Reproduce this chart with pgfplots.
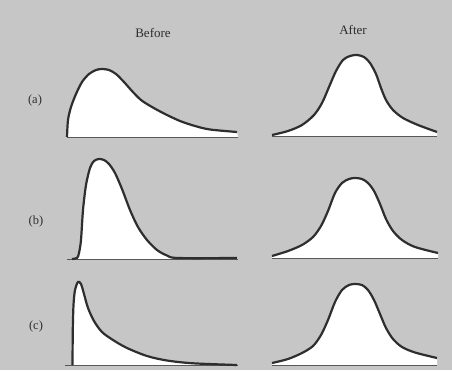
\documentclass[border=0pt]{standalone}
\usepackage{pgfplots}
\pgfplotsset{compat=1.18}
\usepgfplotslibrary{fillbetween}
\usepackage{fontspec}
\setmainfont{Liberation Serif}
\definecolor{bg}{HTML}{C6C6C6}
\definecolor{ink}{HTML}{2E2E2E}
\begin{document}
\begin{tikzpicture}
\begin{axis}[
  width=452pt, height=370pt, scale only axis,
  xmin=0, xmax=452, ymin=0, ymax=370, y dir=reverse,
  enlargelimits=false, xtick=\empty, ytick=\empty,
  axis line style={draw=none},
  axis background/.style={fill=bg},
  clip=true,
]
% ---------- (a) Before ----------
\addplot[name path=ca1, draw=none, smooth] coordinates {(67,137)(68,120)(71,107)(76,94)(82,82)(89,74)(96,70)(102,69)(109,70)(116,74)(124,82)(132,91)(141,100)(152,107)(165,114)(180,121)(195,126)(210,129.5)(237,132)};
\addplot[name path=ba1, draw=none] coordinates {(67,137)(238,137)};
\addplot[white] fill between[of=ca1 and ba1];
% ---------- (a) After ----------
\addplot[name path=ca2, draw=none, smooth] coordinates {(272,135)(288,131)(302,125)(314,115)(322,103)(329,87)(336,71)(343,60)(350,56)(357,55)(364,57)(370,63)(376,74)(381,88)(386,100)(393,110)(403,118)(418,125)(437,132)};
\addplot[name path=ba2, draw=none] coordinates {(272,136)(437,136)};
\addplot[white] fill between[of=ca2 and ba2];
% ---------- (b) Before ----------
\addplot[name path=cb1, draw=none, smooth] coordinates {(72,259)(77,258)(79,253)(81,240)(83,210)(86,185)(90,168)(94,161)(99,159)(104,160)(109,164)(115,173)(122,189)(130,210)(138,227)(147,240)(157,250)(167,255.5)(178,258)(237,258)};
\addplot[name path=bb1, draw=none] coordinates {(67,259)(238,259)};
\addplot[white] fill between[of=cb1 and bb1];
% ---------- (b) After ----------
\addplot[name path=cb2, draw=none, smooth] coordinates {(272,256)(288,251)(302,245)(313,237)(321,226)(328,211)(335,193)(342,183)(349,179)(355,178)(362,179)(368,183)(374,191)(380,204)(386,219)(393,231)(402,240)(415,247)(438,253)};
\addplot[name path=bb2, draw=none] coordinates {(272,258)(438,258)};
\addplot[white] fill between[of=cb2 and bb2];
% ---------- (c) Before ----------
\addplot[name path=cc1, draw=none, smooth] coordinates {(72.5,365)(72.8,330)(73.5,305)(75,290)(78,282)(81,284)(84,294)(88,308)(94,321)(102,332)(113,340)(127,348)(147,356)(167,360.5)(193,363.3)(237,365)};
\addplot[name path=bc1, draw=none] coordinates {(65,365.5)(238,365.5)};
\addplot[white] fill between[of=cc1 and bc1];
% ---------- (c) After ----------
\addplot[name path=cc2, draw=none, smooth] coordinates {(272,363)(288,359)(302,353)(313,346)(321,335)(328,320)(335,302)(342,290)(349,285)(355,284)(362,285)(368,290)(374,300)(380,314)(386,328)(393,339)(402,347)(415,352.5)(437,358)};
\addplot[name path=bc2, draw=none] coordinates {(272,365)(437,365)};
\addplot[white] fill between[of=cc2 and bc2];
% ---------- baselines ----------
\addplot[ink!80, line width=0.9pt] coordinates {(67,137)(238,137)};
\addplot[ink!80, line width=0.9pt] coordinates {(272,136)(437,136)};
\addplot[ink!80, line width=0.9pt] coordinates {(67,259)(238,259)};
\addplot[ink!80, line width=0.9pt] coordinates {(272,258)(438,258)};
\addplot[ink!80, line width=0.9pt] coordinates {(65,365.5)(238,365.5)};
\addplot[ink!80, line width=0.9pt] coordinates {(272,365)(437,365)};
% ---------- curves ----------
\addplot[ink, line width=2.2pt, smooth] coordinates {(67,137)(68,120)(71,107)(76,94)(82,82)(89,74)(96,70)(102,69)(109,70)(116,74)(124,82)(132,91)(141,100)(152,107)(165,114)(180,121)(195,126)(210,129.5)(237,132)};
\addplot[ink, line width=2.2pt, smooth] coordinates {(272,135)(288,131)(302,125)(314,115)(322,103)(329,87)(336,71)(343,60)(350,56)(357,55)(364,57)(370,63)(376,74)(381,88)(386,100)(393,110)(403,118)(418,125)(437,132)};
\addplot[ink, line width=2.2pt, smooth] coordinates {(72,259)(77,258)(79,253)(81,240)(83,210)(86,185)(90,168)(94,161)(99,159)(104,160)(109,164)(115,173)(122,189)(130,210)(138,227)(147,240)(157,250)(167,255.5)(178,258)(237,258)};
\addplot[ink, line width=2.2pt, smooth] coordinates {(272,256)(288,251)(302,245)(313,237)(321,226)(328,211)(335,193)(342,183)(349,179)(355,178)(362,179)(368,183)(374,191)(380,204)(386,219)(393,231)(402,240)(415,247)(438,253)};
\addplot[ink, line width=2.2pt, smooth] coordinates {(72.5,365)(72.8,330)(73.5,305)(75,290)(78,282)(81,284)(84,294)(88,308)(94,321)(102,332)(113,340)(127,348)(147,356)(167,360.5)(193,363.3)(237,365)};
\addplot[ink, line width=2.2pt, smooth] coordinates {(272,363)(288,359)(302,353)(313,346)(321,335)(328,320)(335,302)(342,290)(349,285)(355,284)(362,285)(368,290)(374,300)(380,314)(386,328)(393,339)(402,347)(415,352.5)(437,358)};
% ---------- labels ----------
\node[text=ink, font=\fontsize{13}{15}\selectfont] at (axis cs:153,33) {Before};
\node[text=ink, font=\fontsize{13}{15}\selectfont] at (axis cs:353,30) {After};
\node[text=ink, font=\fontsize{12.5}{15}\selectfont] at (axis cs:35,100) {(a)};
\node[text=ink, font=\fontsize{12.5}{15}\selectfont] at (axis cs:36,221) {(b)};
\node[text=ink, font=\fontsize{12.5}{15}\selectfont] at (axis cs:36,326) {(c)};
\end{axis}
\end{tikzpicture}
\end{document}
